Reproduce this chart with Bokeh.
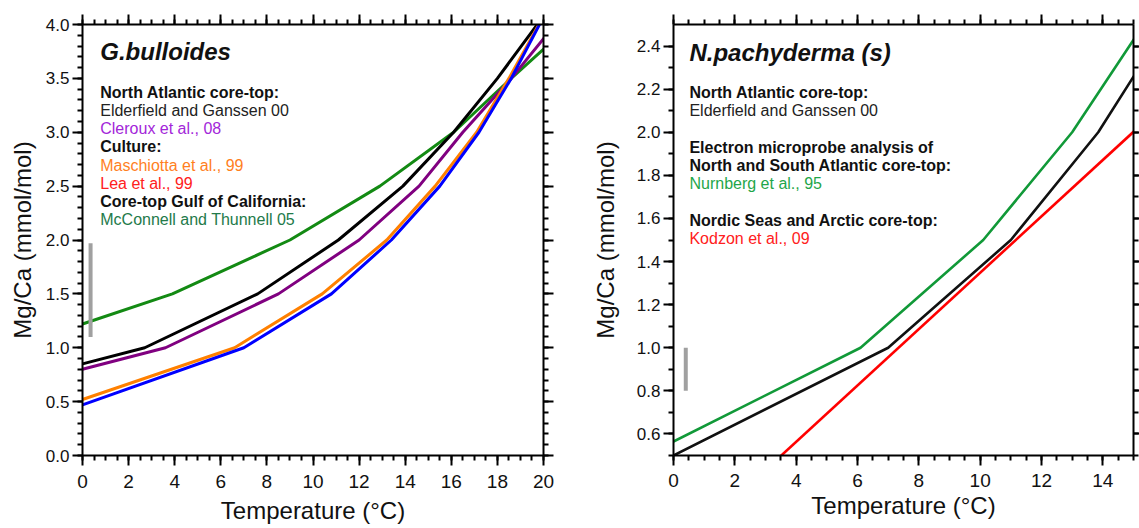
from bokeh.plotting import figure
from bokeh.layouts import row
from bokeh.models import (LinearAxis, SingleIntervalTicker, NumeralTickFormatter, Label, Range1d,
                          CustomJSTickFormatter)
from bokeh.embed import file_html
from bokeh.resources import INLINE

FONT = "Liberation Sans"

# ---------------- Left panel: G. bulloides ----------------
gb_x_range = (0, 20)
gb_y_range = (0, 4)
gb_x_step, gb_x_minor_n = 2, 4
gb_y_step, gb_y_minor_n = 0.5, 5

gb_elderfield_t = [0, 2.7, 7.6, 11.1, 13.9, 16.1, 18.0, 19.8]
gb_elderfield_v = [0.85, 1.0, 1.5, 2.0, 2.5, 3.0, 3.5, 4.02]
gb_cleroux_t = [0, 3.6, 8.5, 12.0, 14.6, 16.5, 18.6, 20.2]
gb_cleroux_v = [0.80, 1.0, 1.5, 2.0, 2.5, 3.0, 3.5, 3.92]
gb_maschiotta_t = [0, 6.6, 10.4, 13.2, 15.3, 17.1, 18.5, 19.8]
gb_maschiotta_v = [0.52, 1.0, 1.5, 2.0, 2.5, 3.0, 3.5, 4.0]
gb_lea_t = [0, 7.0, 10.8, 13.4, 15.5, 17.2, 18.6, 19.9]
gb_lea_v = [0.47, 1.0, 1.5, 2.0, 2.5, 3.0, 3.5, 4.03]
gb_mcconnell_t = [0, 3.9, 9.0, 12.9, 16.1, 18.6, 20.15]
gb_mcconnell_v = [1.22, 1.5, 2.0, 2.5, 3.0, 3.5, 3.80]
gb_bar_t = [0.35, 0.35]
gb_bar_v = [1.10, 1.97]

gb_title = "G.bulloides"
gb_legend_text = ["North Atlantic core-top:", "Elderfield and Ganssen 00", "Cleroux et al., 08",
                  "Culture:", "Maschiotta et al., 99", "Lea et al., 99",
                  "Core-top Gulf of California:", "McConnell and Thunnell 05"]
gb_legend_bold = [True, False, False, True, False, False, True, False]
gb_legend_color = ["#111111", "#222222", "#a326d9", "#111111", "#ff7f1e", "#ff2020",
                   "#111111", "#237a4a"]
gb_legend_row = [0, 1, 2, 3, 4, 5, 6, 7]

# ---------------- Right panel: N. pachyderma (s) ----------------
np_x_range = (0, 15)
np_y_range = (0.5, 2.5)
np_x_step, np_x_minor_n = 2, 4
np_y_step, np_y_minor_n = 0.2, 2

np_elderfield_t = [0, 7.0, 11.0, 13.85, 15.1]
np_elderfield_v = [0.5, 1.0, 1.5, 2.0, 2.28]
np_nurnberg_t = [0, 6.1, 10.1, 13.0, 15.1]
np_nurnberg_v = [0.565, 1.0, 1.5, 2.0, 2.45]
np_kodzon_t = [3.4, 15.1]
np_kodzon_v = [0.485, 2.015]
np_bar_t = [0.4, 0.4]
np_bar_v = [0.80, 1.00]

np_title = "N.pachyderma (s)"
np_legend_text = ["North Atlantic core-top:", "Elderfield and Ganssen 00",
                  "Electron microprobe analysis of", "North and South Atlantic core-top:",
                  "Nurnberg et al., 95",
                  "Nordic Seas and Arctic core-top:", "Kodzon et al., 09"]
np_legend_bold = [True, False, True, True, False, True, False]
np_legend_color = ["#111111", "#222222", "#111111", "#111111", "#1fa64a", "#111111", "#ff2020"]
np_legend_row = [0, 1, 3, 4, 5, 7, 8]


def set_ticks(ax, tick_out=10, minor_out=5):
    ax.axis_line_width = 2
    ax.major_tick_line_width = 2
    ax.minor_tick_line_width = 2
    ax.major_tick_out = tick_out
    ax.major_tick_in = 0
    ax.minor_tick_out = minor_out
    ax.minor_tick_in = 0


def make_panel(width, xr, yr, xs, xmn, ys, ymn, borders, ylab_standoff, xlab_standoff,
               x_standoff, right_tick_out=10, right_minor_out=5):
    p = figure(width=width, height=528, x_range=Range1d(*xr), y_range=Range1d(*yr),
               output_backend="svg", toolbar_location=None,
               min_border_left=borders[0], min_border_right=borders[1],
               min_border_top=borders[2], min_border_bottom=borders[3])
    p.xgrid.grid_line_color = None
    p.ygrid.grid_line_color = None
    p.outline_line_color = None

    p.xaxis.ticker = SingleIntervalTicker(interval=xs, num_minor_ticks=xmn)
    p.yaxis.ticker = SingleIntervalTicker(interval=ys, num_minor_ticks=ymn)
    p.yaxis.formatter = NumeralTickFormatter(format="0.0")
    p.xaxis.axis_label = "Temperature (°C)"
    p.yaxis.axis_label = "Mg/Ca (mmol/mol)"
    set_ticks(p.xaxis)
    set_ticks(p.yaxis)
    p.xaxis.major_label_text_font_size = "19px"
    p.yaxis.major_label_text_font_size = "17px"
    p.xaxis.major_label_standoff = x_standoff
    p.yaxis.major_label_standoff = 3
    p.xaxis.axis_label_standoff = xlab_standoff
    p.yaxis.axis_label_standoff = ylab_standoff
    for ax in (p.xaxis, p.yaxis):
        ax.major_label_text_font = FONT
        ax.major_label_text_color = "#111111"
        ax.axis_label_text_font = FONT
        ax.axis_label_text_font_size = "24px"
        ax.axis_label_text_font_style = "normal"
        ax.axis_label_text_color = "#111111"

    top = LinearAxis(ticker=SingleIntervalTicker(interval=xs, num_minor_ticks=xmn),
                     formatter=CustomJSTickFormatter(code="return '';"),
                     major_label_text_font_size="1px", major_label_standoff=0)
    set_ticks(top)
    p.add_layout(top, "above")
    right = LinearAxis(ticker=SingleIntervalTicker(interval=ys, num_minor_ticks=ymn),
                       formatter=CustomJSTickFormatter(code="return '';"),
                       major_label_text_font_size="1px", major_label_standoff=0)
    set_ticks(right, right_tick_out, right_minor_out)
    p.add_layout(right, "right")
    return p


# ---------- left figure ----------
p1 = make_panel(570, gb_x_range, gb_y_range, gb_x_step, gb_x_minor_n, gb_y_step, gb_y_minor_n,
                (82, 27, 23, 72), 7, 6, 9)
p1.line(gb_mcconnell_t, gb_mcconnell_v, line_color="#138a13", line_width=3)
p1.line(gb_elderfield_t, gb_elderfield_v, line_color="black", line_width=3)
p1.line(gb_cleroux_t, gb_cleroux_v, line_color="#800080", line_width=3)
p1.line(gb_maschiotta_t, gb_maschiotta_v, line_color="#ff8000", line_width=3)
p1.line(gb_lea_t, gb_lea_v, line_color="#0000ff", line_width=3)
p1.line(gb_bar_t, gb_bar_v, line_color="#a0a0a0", line_width=4)

gb_text_x = 0.77
p1.add_layout(Label(x=gb_text_x, y=3.75, text=gb_title, text_font=FONT, text_font_size="24px",
                    text_font_style="bold italic", text_color="#111111", text_baseline="middle"))
for txt, b, c, r in zip(gb_legend_text, gb_legend_bold, gb_legend_color, gb_legend_row):
    p1.add_layout(Label(x=gb_text_x, y=3.371 - r * 0.169, text=txt, text_font=FONT,
                        text_font_size="16px", text_font_style="bold" if b else "normal",
                        text_color=c, text_baseline="middle"))

# ---------- right figure ----------
p2 = make_panel(569, np_x_range, np_y_range, np_x_step, np_x_minor_n, np_y_step, np_y_minor_n,
                (103, 6, 24, 73), 15, 2, 8, right_tick_out=6, right_minor_out=5)
p2.line(np_nurnberg_t, np_nurnberg_v, line_color="#119938", line_width=2.6)
p2.line(np_elderfield_t, np_elderfield_v, line_color="#111111", line_width=2.6)
p2.line(np_kodzon_t, np_kodzon_v, line_color="#ff0000", line_width=2.6)
p2.line(np_bar_t, np_bar_v, line_color="#a0a0a0", line_width=4)

np_text_x = 0.52
p2.add_layout(Label(x=np_text_x, y=2.371, text=np_title, text_font=FONT, text_font_size="24px",
                    text_font_style="bold italic", text_color="#111111", text_baseline="middle"))
for txt, b, c, r in zip(np_legend_text, np_legend_bold, np_legend_color, np_legend_row):
    p2.add_layout(Label(x=np_text_x, y=2.185 - r * 0.0849, text=txt, text_font=FONT,
                        text_font_size="16px", text_font_style="bold" if b else "normal",
                        text_color=c, text_baseline="middle"))

layout = row(p1, p2)
open("out.html", "w").write(file_html(layout, INLINE))
